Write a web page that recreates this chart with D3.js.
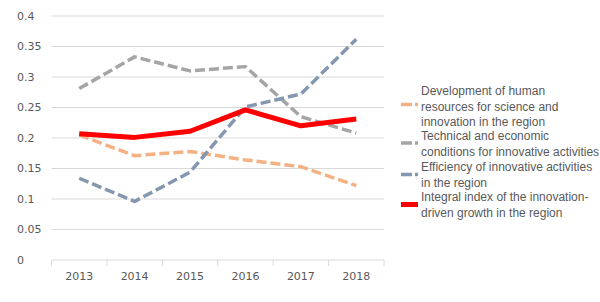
<!DOCTYPE html>
<head>
    <title>Innovation index</title>
    <script src="https://cdn.jsdelivr.net/npm/d3@7"></script>
    <style>
        body { margin: 0; background: #fff; }
    </style>
</head>
<body>
<div id="container"></div>

<script>

// Données
const years = ["2013", "2014", "2015", "2016", "2017", "2018"];
const yTicks = [0, 0.05, 0.1, 0.15, 0.2, 0.25, 0.3, 0.35, 0.4];

const humanRes   = [0.205, 0.171, 0.178, 0.164, 0.153, 0.122];
const techEcon   = [0.281, 0.333, 0.310, 0.317, 0.235, 0.208];
const efficiency = [0.134, 0.096, 0.144, 0.251, 0.272, 0.362];
const integral   = [0.207, 0.201, 0.211, 0.246, 0.220, 0.231];

const seriesNames = [
    ["Development of human", "resources for science and", "innovation in the region"],
    ["Technical and economic", "conditions for innovative activities"],
    ["Efficiency of innovative activities", "in the region"],
    ["Integral index of the innovation-", "driven growth in the region"]
];

const series = [
    { values: humanRes,   color: "#f4b183", width: 3.5, dash: "10,4" },
    { values: techEcon,   color: "#a5a5a5", width: 3.5, dash: "10,4" },
    { values: efficiency, color: "#8497b0", width: 3.5, dash: "10,4" },
    { values: integral,   color: "#ff0000", width: 5,   dash: null }
];

// Dimensions
const width = 600;
const height = 302;
const plotLeft = 51.5;
const plotRight = 384;
const plotTop = 16;
const plotBottom = 260;

const svg = d3.select("#container")
              .append("svg")
              .attr("width", width)
              .attr("height", height);

// Échelles
const x = d3.scaleBand()
            .domain(years)
            .range([plotLeft, plotRight]);

const y = d3.scaleLinear()
            .domain([0, 0.4])
            .range([plotBottom, plotTop]);

// Grille horizontale
svg.append("g")
   .selectAll("line")
   .data(yTicks.filter(d => d > 0))
   .enter().append("line")
   .attr("x1", plotLeft)
   .attr("x2", plotRight)
   .attr("y1", d => y(d))
   .attr("y2", d => y(d))
   .attr("stroke", "#d9d9d9")
   .attr("stroke-width", 1);

// Axe X (ligne + graduations entre catégories)
const xAxis = d3.axisBottom(x).tickSize(0).tickPadding(12);
const gx = svg.append("g")
              .attr("transform", `translate(0,${plotBottom})`)
              .call(xAxis);
gx.select(".domain").remove();
gx.selectAll("text")
  .attr("fill", "#595959")
  .style("font-family", "'DejaVu Sans', sans-serif")
  .style("font-size", "11px");

svg.append("line")
   .attr("x1", plotLeft)
   .attr("x2", plotRight)
   .attr("y1", plotBottom)
   .attr("y2", plotBottom)
   .attr("stroke", "#d9d9d9");

const boundaries = years.map(d => x(d)).concat([x(years[years.length - 1]) + x.bandwidth()]);
svg.append("g")
   .selectAll("line")
   .data(boundaries)
   .enter().append("line")
   .attr("x1", d => d)
   .attr("x2", d => d)
   .attr("y1", plotBottom)
   .attr("y2", plotBottom + 6)
   .attr("stroke", "#d9d9d9");

// Étiquettes Y (alignées à gauche comme dans Excel)
svg.append("g")
   .selectAll("text")
   .data(yTicks)
   .enter().append("text")
   .attr("x", 17)
   .attr("y", d => y(d))
   .attr("dy", "0.36em")
   .attr("fill", "#595959")
   .style("font-family", "'DejaVu Sans', sans-serif")
   .style("font-size", "11px")
   .text(d => d3.format("")(d));

// Lignes
const line = d3.line()
               .x((d, i) => x(years[i]) + x.bandwidth() / 2)
               .y(d => y(d));

svg.append("g")
   .selectAll("path")
   .data(series)
   .enter().append("path")
   .attr("d", d => line(d.values))
   .attr("fill", "none")
   .attr("stroke", d => d.color)
   .attr("stroke-width", d => d.width)
   .attr("stroke-dasharray", d => d.dash)
   .attr("stroke-linejoin", "round");

// Légende
const legendMarkerY = [104.5, 143, 174.5, 204.5];
const legendFirstLine = [91, 136, 167, 197];
const lineStep = 15.2;

const legend = svg.append("g")
                  .selectAll("g")
                  .data(series)
                  .enter().append("g");

legend.append("line")
      .attr("x1", 401)
      .attr("x2", 418)
      .attr("y1", (d, i) => legendMarkerY[i])
      .attr("y2", (d, i) => legendMarkerY[i])
      .attr("stroke", d => d.color)
      .attr("stroke-width", d => d.width)
      .attr("stroke-dasharray", d => d.dash ? "11,3" : null);

legend.each(function(d, i) {
    const t = d3.select(this).append("text")
                .attr("fill", "#595959")
                .style("font-family", "'Liberation Sans Narrow', 'Arial Narrow', 'Liberation Sans', sans-serif")
                .style("font-stretch", "condensed")
                .style("font-size", "12px");
    seriesNames[i].forEach((s, j) => {
        t.append("tspan")
         .attr("x", 421)
         .attr("y", legendFirstLine[i] + j * lineStep)
         .attr("dy", "0.36em")
         .text(s);
    });
});

</script>

</body>
